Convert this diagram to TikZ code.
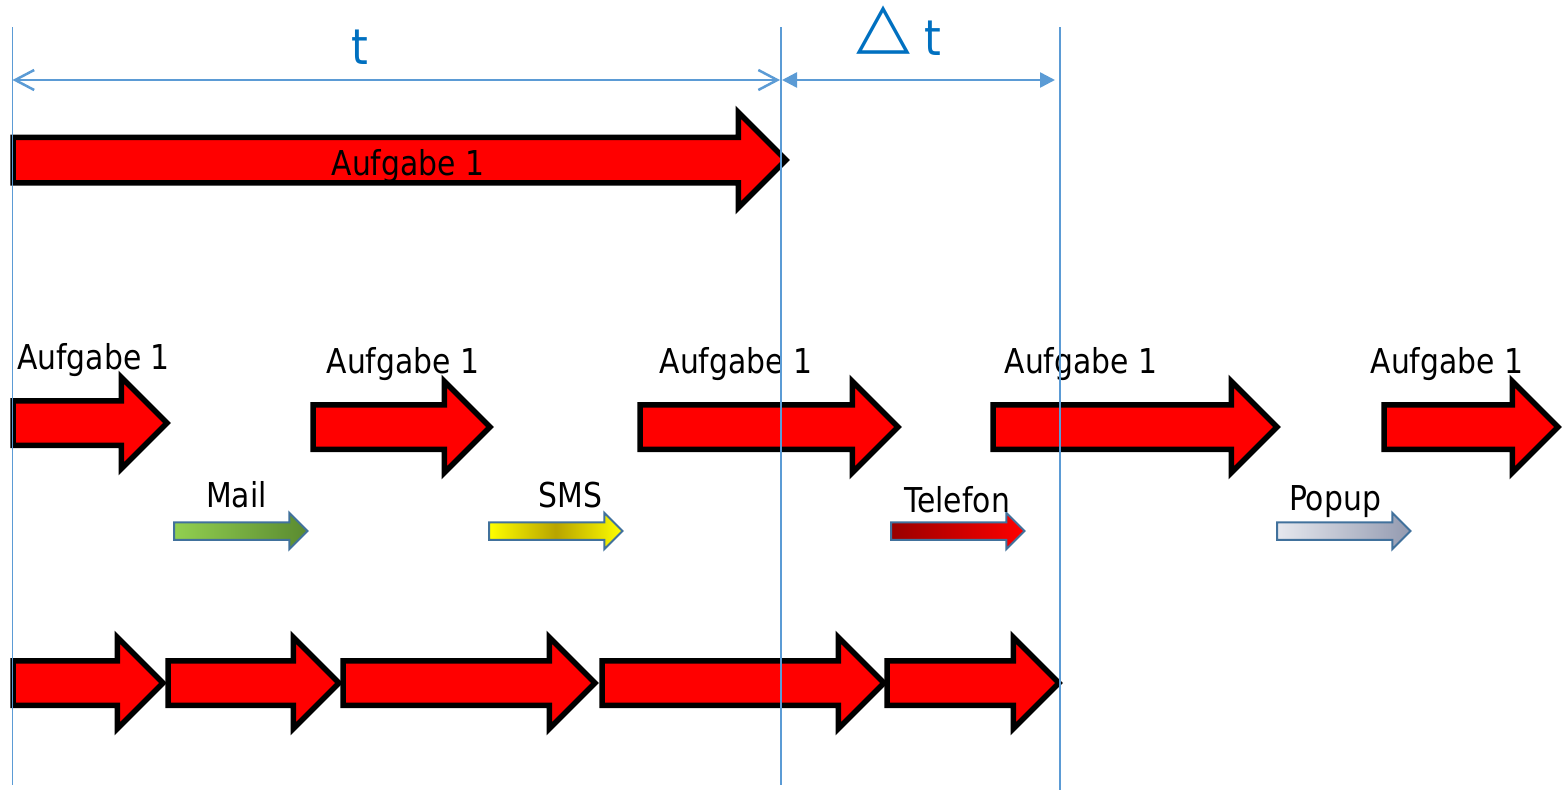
\documentclass[tikz,border=0pt]{standalone}
\usepackage{tikz}
\usetikzlibrary{arrows.meta,shapes.arrows}
\usepackage{fontspec}
\setmainfont{DejaVu Sans}
\newfontfamily\taskfont[FakeStretch=0.87]{DejaVu Sans}
\definecolor{guide}{HTML}{5B9BD5}
\definecolor{tblue}{HTML}{0070C0}
\definecolor{msgedge}{HTML}{41719C}
\definecolor{mailA}{HTML}{92D050}
\definecolor{mailB}{HTML}{5A8A30}
\definecolor{smsA}{HTML}{FFFF00}
\definecolor{smsB}{HTML}{B8A400}
\definecolor{telA}{HTML}{990000}
\definecolor{telB}{HTML}{FF0000}
\definecolor{popA}{HTML}{E6E8EE}
\definecolor{popB}{HTML}{939AB0}

\begin{document}
\begin{tikzpicture}[x=0.2mm,y=-0.2mm,
	task/.style={single arrow,draw=black,fill=red,line width=1.1mm,inner xsep=0pt,inner ysep=3.9mm,single arrow head extend=4.7mm,outer sep=0pt,anchor=tail},
	msg/.style={single arrow,draw=msgedge,line width=0.4mm,inner xsep=0pt,inner ysep=1.55mm,single arrow head extend=1.9mm,minimum height=26.7mm,outer sep=0pt,anchor=tail},
	lbl/.style={font=\taskfont\fontsize{19.5}{22}\selectfont,anchor=base,inner sep=0pt},
	tlbl/.style={font=\taskfont\fontsize{28}{30}\selectfont,text=tblue,anchor=base,inner sep=0pt},
	guideline/.style={draw=guide,line width=0.3mm},
	dim/.style={draw=guide,line width=0.5mm}]
	\useasboundingbox (0,0) rectangle (1562,790);

	% whole task in one go
	\node (a0) at (13,160) [task,inner ysep=4mm,single arrow head extend=5mm,minimum height=154.6mm] {};

	% task cut into pieces by messages
	\node (b1) at (13,423) [task,minimum height=30.8mm] {};
	\node (b2) at (313,427) [task,minimum height=35.4mm] {};
	\node (b3) at (640,427) [task,minimum height=51.6mm] {};
	\node (b4) at (993,427) [task,minimum height=56.8mm] {};
	\node (b5) at (1384,427) [task,minimum height=34.8mm] {};

	\node (m1) at (174,531) [msg,left color=mailA,right color=mailB] {};
	\node (m2) at (489,531) [msg,left color=smsA,right color=smsA,middle color=smsB] {};
	\node (m3) at (891,531) [msg,left color=telA,right color=telB] {};
	\node (m4) at (1277,531) [msg,left color=popA,right color=popB] {};

	% the pieces back to back
	\node (c1) at (13,683) [task,minimum height=30mm] {};
	\node (c2) at (168,683) [task,minimum height=34.2mm] {};
	\node (c3) at (343,683) [task,minimum height=50.4mm] {};
	\node (c4) at (602,683) [task,minimum height=56.4mm] {};
	\node (c5) at (887,683) [task,minimum height=34.4mm] {};

	% labels
	\node (la0) at (408,175) [lbl] {Aufgabe 1};
	\node (lb1) at (93.5,369) [lbl] {Aufgabe 1};
	\node (lb2) at (403,373) [lbl] {Aufgabe 1};
	\node (lb3) at (736,373) [lbl] {Aufgabe 1};
	\node (lb4) at (1081,373) [lbl] {Aufgabe 1};
	\node (lb5) at (1447,373) [lbl] {Aufgabe 1};
	\node (lm1) at (236.5,507) [lbl] {Mail};
	\node (lm2) at (570.5,507) [lbl] {SMS};
	\node (lm3) at (957,512) [lbl] {Telefon};
	\node (lm4) at (1335,510) [lbl] {Popup};

	% time marks
	\coordinate (g0) at (12.5,27);
	\coordinate (g0e) at (12.5,785);
	\coordinate (g1) at (781,27);
	\coordinate (g1e) at (781,785);
	\coordinate (g2) at (1060,27);
	\coordinate (g2e) at (1060,790);
	\draw [guideline] (g0) -- (g0e);
	\draw [guideline] (g1) -- (g1e);
	\draw [guideline] (g2) -- (g2e);

	\coordinate (t0) at (12.5,80);
	\coordinate (t1) at (780,80);
	\coordinate (d0) at (782,80);
	\coordinate (d1) at (1055,80);
	\draw [dim,{Straight Barb[length=3.8mm,width=4mm]}-{Straight Barb[length=3.8mm,width=4mm]}] (t0) -- (t1);
	\draw [dim,{Triangle[length=3mm,width=3mm]}-{Triangle[length=3mm,width=3mm]}] (d0) -- (d1);
	\node (lt) at (360,64) [tlbl] {t};
	\node (ldt) at (899,55) [tlbl] {\raisebox{1.66mm}{\scalebox{1.15}[0.9]{\fontsize{40}{40}\selectfont △}} t};
\end{tikzpicture}
\end{document}
